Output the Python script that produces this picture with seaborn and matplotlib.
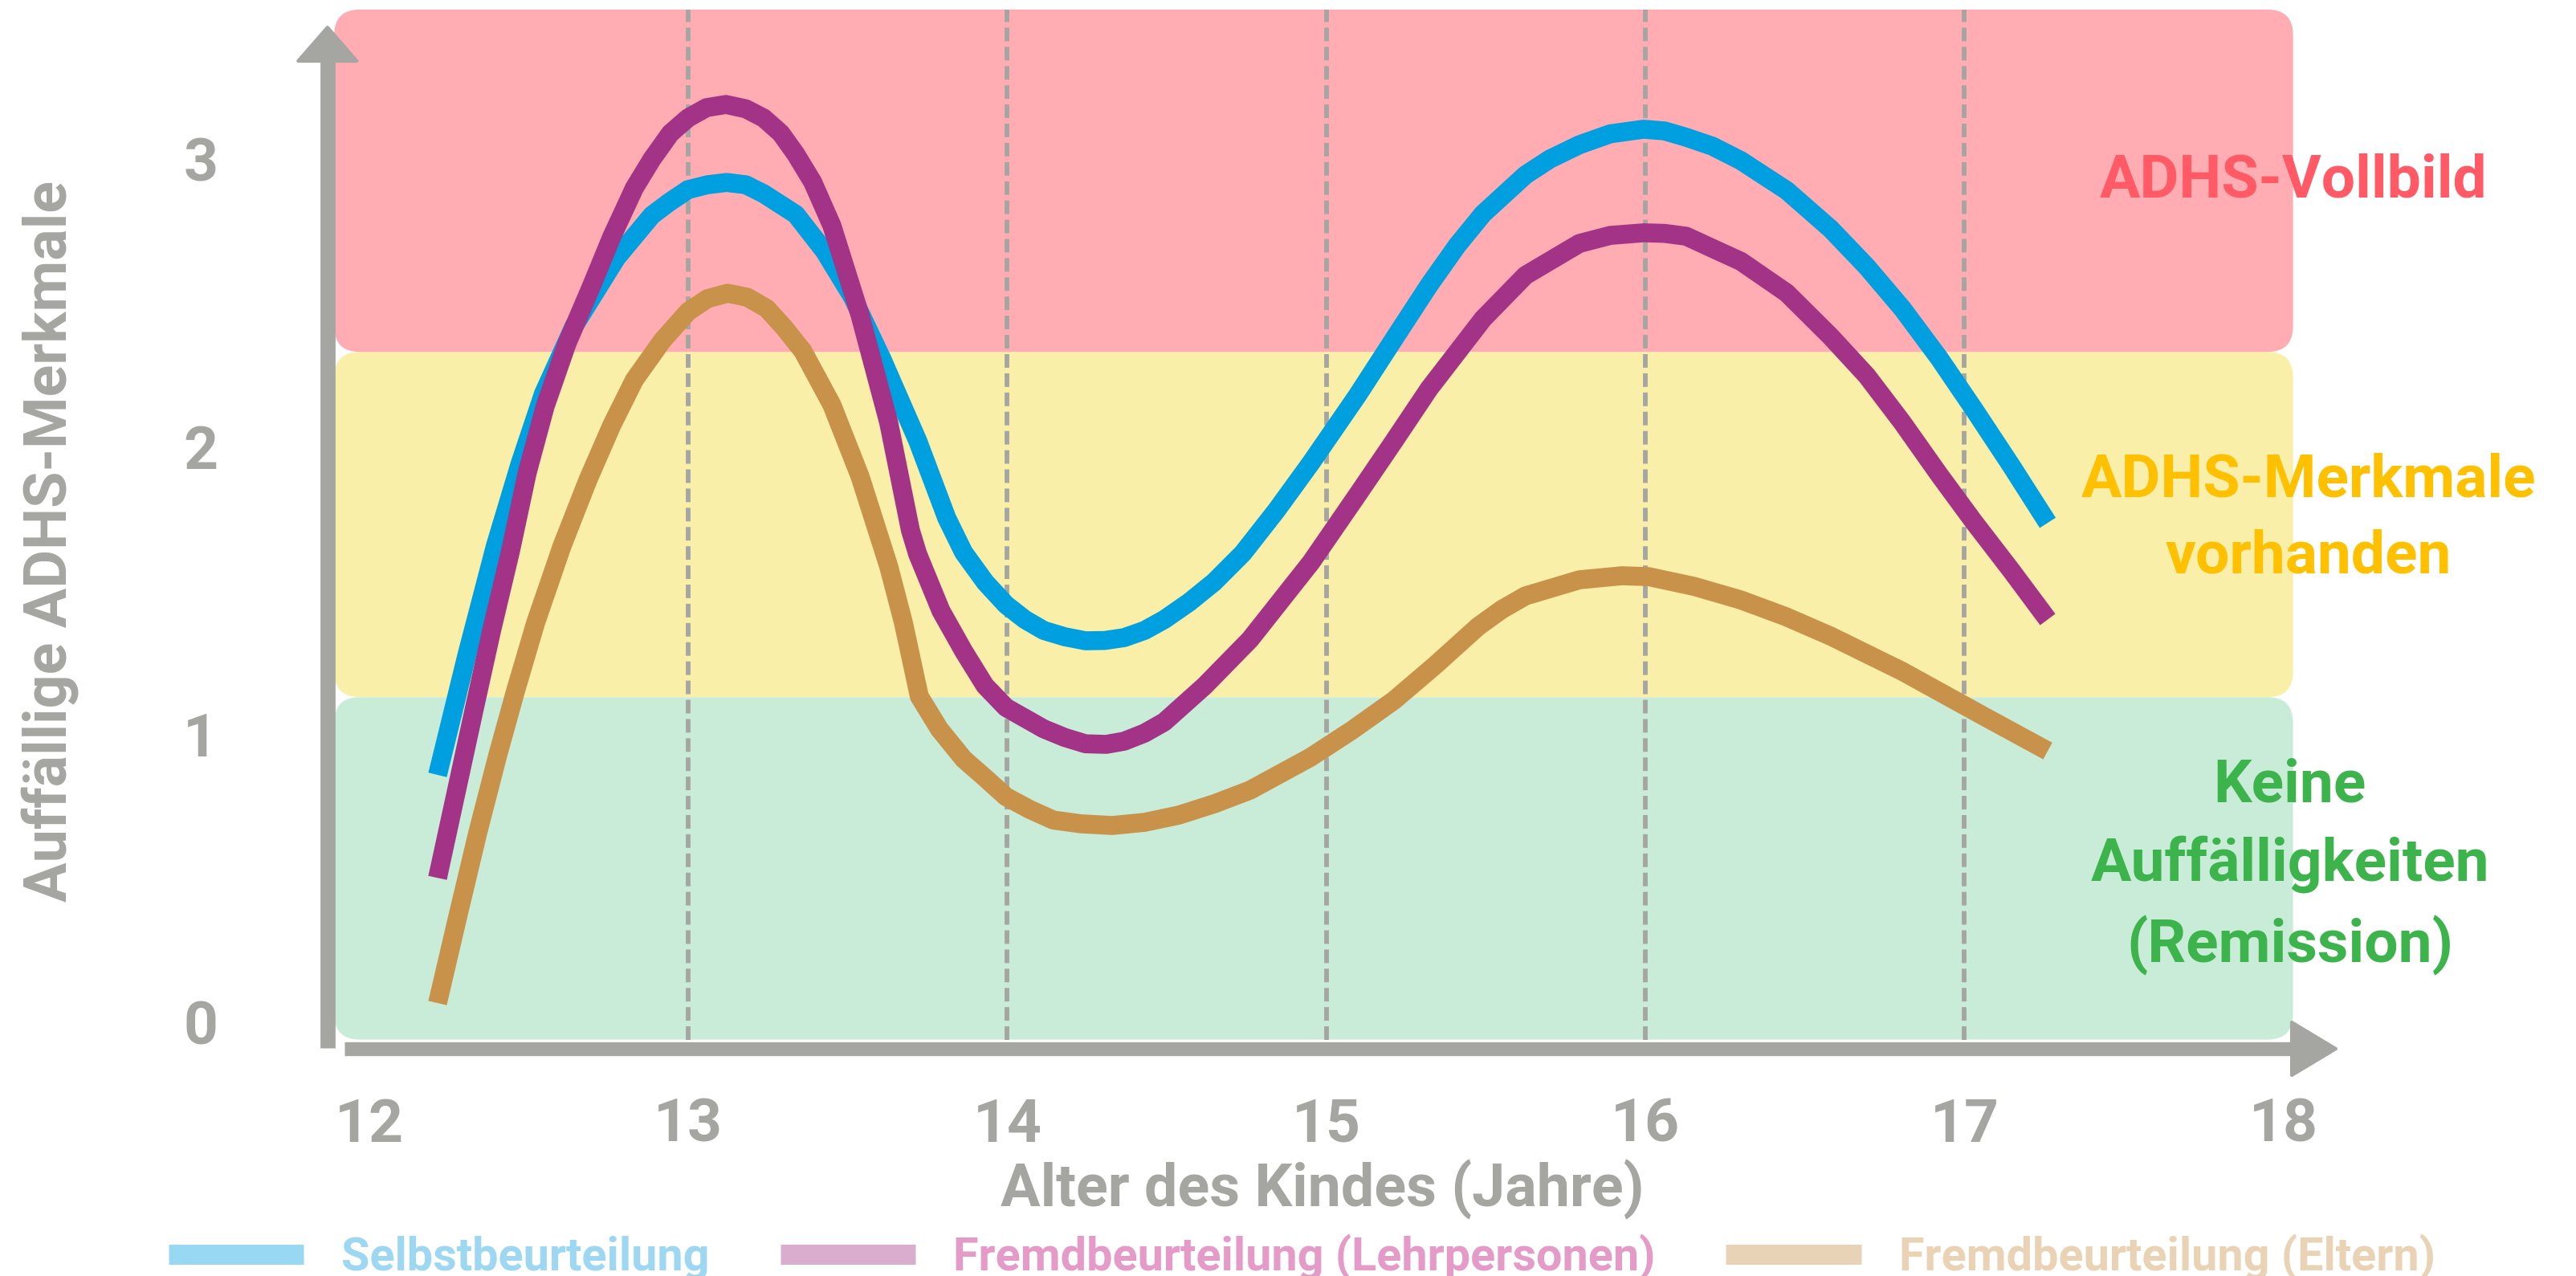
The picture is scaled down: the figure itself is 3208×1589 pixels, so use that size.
import numpy as np
import pandas as pd
import matplotlib
matplotlib.use("Agg")
import matplotlib.pyplot as plt
from matplotlib.patches import FancyBboxPatch
from matplotlib.lines import Line2D
import seaborn as sns

# ---------------- data ----------------
alter_selbst = [12.214, 12.307, 12.395, 12.473, 12.546, 12.642, 12.775, 12.886, 12.940, 12.999,
                13.060, 13.120, 13.180, 13.236, 13.337, 13.427, 13.515, 13.606, 13.719, 13.810,
                13.863, 13.931, 13.996, 14.055, 14.114, 14.180, 14.245, 14.305, 14.366, 14.430,
                14.492, 14.570, 14.648, 14.738, 14.844, 14.952, 15.098, 15.209, 15.322, 15.410,
                15.491, 15.624, 15.700, 15.793, 15.890, 15.994, 16.060, 16.128, 16.210, 16.299,
                16.443, 16.581, 16.694, 16.805, 16.921, 17.029, 17.147, 17.261]
werte_selbst = [0.860, 1.281, 1.655, 1.943, 2.185, 2.420, 2.657, 2.805, 2.850, 2.894,
                2.911, 2.919, 2.911, 2.880, 2.808, 2.680, 2.520, 2.308, 2.021, 1.753,
                1.633, 1.529, 1.451, 1.400, 1.362, 1.340, 1.326, 1.327, 1.337, 1.362,
                1.400, 1.460, 1.530, 1.630, 1.780, 1.945, 2.180, 2.370, 2.562, 2.700,
                2.810, 2.945, 3.000, 3.050, 3.088, 3.104, 3.098, 3.076, 3.045, 2.995,
                2.891, 2.757, 2.626, 2.481, 2.308, 2.132, 1.934, 1.736]

alter_lehrer = [12.214, 12.330, 12.383, 12.443, 12.495, 12.551, 12.620, 12.697, 12.760, 12.831,
                12.886, 12.944, 12.999, 13.057, 13.118, 13.180, 13.236, 13.290, 13.337, 13.390,
                13.450, 13.538, 13.628, 13.696, 13.719, 13.792, 13.863, 13.930, 13.996, 14.114,
                14.180, 14.245, 14.310, 14.366, 14.430, 14.492, 14.618, 14.761, 14.952, 15.098,
                15.209, 15.322, 15.491, 15.624, 15.793, 15.890, 15.994, 16.060, 16.128, 16.210,
                16.299, 16.443, 16.581, 16.694, 16.805, 16.921, 17.029, 17.147, 17.261]
werte_lehrer = [0.502, 1.094, 1.360, 1.640, 1.910, 2.140, 2.360, 2.560, 2.730, 2.900,
                3.000, 3.090, 3.143, 3.179, 3.190, 3.175, 3.143, 3.090, 3.017, 2.920,
                2.769, 2.459, 2.085, 1.711, 1.627, 1.430, 1.290, 1.170, 1.094, 1.020,
                0.990, 0.968, 0.966, 0.977, 1.005, 1.044, 1.169, 1.331, 1.599, 1.834,
                2.015, 2.202, 2.445, 2.596, 2.707, 2.735, 2.744, 2.742, 2.732, 2.690,
                2.645, 2.535, 2.383, 2.247, 2.085, 1.903, 1.740, 1.570, 1.400]

alter_eltern = [12.214, 12.277, 12.340, 12.403, 12.458, 12.521, 12.604, 12.685, 12.760, 12.831,
                12.919, 12.999, 13.060, 13.123, 13.185, 13.246, 13.300, 13.359, 13.450, 13.538,
                13.628, 13.674, 13.724, 13.787, 13.863, 13.930, 13.996, 14.070, 14.144, 14.230,
                14.328, 14.430, 14.537, 14.650, 14.761, 14.950, 15.080, 15.212, 15.340, 15.476,
                15.550, 15.624, 15.793, 15.926, 16.010, 16.153, 16.299, 16.440, 16.581, 16.805,
                17.052, 17.261]
werte_eltern = [0.067, 0.366, 0.659, 0.930, 1.150, 1.387, 1.655, 1.884, 2.075, 2.233,
                2.370, 2.470, 2.515, 2.534, 2.520, 2.481, 2.415, 2.333, 2.146, 1.898,
                1.585, 1.390, 1.133, 1.019, 0.915, 0.850, 0.784, 0.740, 0.703, 0.690,
                0.684, 0.695, 0.720, 0.760, 0.807, 0.921, 1.015, 1.119, 1.240, 1.376,
                1.435, 1.482, 1.538, 1.552, 1.549, 1.515, 1.468, 1.410, 1.342, 1.220,
                1.069, 0.943]

reihen = ["Selbstbeurteilung", "Fremdbeurteilung (Lehrpersonen)", "Fremdbeurteilung (Eltern)"]
linien_farben = ["#009FE0", "#A33387", "#C9924A"]
legenden_text_farben = ["#9DD7F1", "#E59BC8", "#EAD3B5"]

band_grenzen = [-0.06, 1.13, 2.33, 3.52]
band_x = [11.89, 18.03]
band_farben = ["#C8ECD7", "#F9EFA8", "#FFADB3"]
band_texte = ["Keine\nAuffälligkeiten\n(Remission)", "ADHS-Merkmale\nvorhanden", "ADHS-Vollbild"]
band_text_farben = ["#3CB44B", "#FFC000", "#FF5A66"]
band_text_x = [18.02, 18.079, 18.03]
band_text_versatz = [0.005, 0.02, 0.0]

x_ticks = [12, 13, 14, 15, 16, 17, 18]
y_ticks = [0, 1, 2, 3]
jahres_linien = [13, 14, 15, 16, 17]

x_titel = "Alter des Kindes (Jahre)"
y_titel = "Auffällige ADHS-Merkmale"

# ---------------- table ----------------
df = pd.concat([
    pd.DataFrame({"Alter": alter_selbst, "Wert": werte_selbst, "Reihe": reihen[0]}),
    pd.DataFrame({"Alter": alter_lehrer, "Wert": werte_lehrer, "Reihe": reihen[1]}),
    pd.DataFrame({"Alter": alter_eltern, "Wert": werte_eltern, "Reihe": reihen[2]}),
], ignore_index=True)

# ---------------- style ----------------
sns.set_theme(style="white")
plt.rcParams["font.family"] = ["Roboto", "DejaVu Sans"]
GRAU = "#A5A6A1"

fig = plt.figure(figsize=(32.08, 15.89), dpi=100)
ax = fig.add_axes([0.1062, 0.1695, 0.8174, 0.8298])
ax.set_xlim(11.7, 18.3)
ax.set_ylim(-0.13, 3.55)

# bands
for i in range(3):
    y0, y1 = band_grenzen[i], band_grenzen[i + 1]
    ax.add_patch(FancyBboxPatch((band_x[0], y0), band_x[1] - band_x[0], y1 - y0,
                                boxstyle="round,pad=0,rounding_size=0.08",
                                mutation_aspect=1.11, fc=band_farben[i], ec="none", zorder=0))
    ax.text(band_text_x[i], (y0 + y1) / 2 + band_text_versatz[i], band_texte[i],
            color=band_text_farben[i], fontsize=54, fontweight="bold", ha="center",
            va="center", linespacing=1.47, zorder=5, clip_on=False)

# dashed year lines
ax.vlines(jahres_linien, band_grenzen[0], band_grenzen[-1], colors=GRAU, linewidth=4.2,
          linestyles=(0, (2.9, 1.2)), zorder=1)

# curves
sns.lineplot(data=df, x="Alter", y="Wert", hue="Reihe", hue_order=reihen,
             palette=linien_farben, estimator=None, sort=False, linewidth=17,
             legend=False, ax=ax, solid_capstyle="butt", solid_joinstyle="round", zorder=3)

# axis arrows
ax.plot([11.869, 11.869], [-0.089, 3.345], color=GRAU, lw=13.5, solid_capstyle="butt",
        clip_on=False, zorder=4)
ax.fill([11.869 - 0.092, 11.869, 11.869 + 0.092], [3.341, 3.458, 3.341], color=GRAU,
        clip_on=False, zorder=4, joinstyle="round", lw=3, ec=GRAU)
ax.plot([11.922, 18.03], [-0.092, -0.092], color=GRAU, lw=12.5, solid_capstyle="butt",
        clip_on=False, zorder=4)
ax.fill([18.026, 18.164, 18.026], [-0.092 - 0.092, -0.092, -0.092 + 0.092], color=GRAU,
        clip_on=False, zorder=4, joinstyle="round", lw=3, ec=GRAU)

# ticks and labels
for s in ax.spines.values():
    s.set_visible(False)
ax.grid(False)
ax.set_xticks(x_ticks)
ax.set_xticklabels([str(t) for t in x_ticks])
ax.set_yticks(y_ticks)
ax.set_yticklabels([str(t) for t in y_ticks])
ax.tick_params(axis="both", length=0, labelsize=54, labelcolor=GRAU)
ax.tick_params(axis="x", pad=34)
ax.tick_params(axis="y", pad=50)
for lab in ax.get_xticklabels() + ax.get_yticklabels():
    lab.set_fontweight("bold")

ax.set_xlabel(x_titel, fontsize=53, fontweight="bold", color=GRAU, va="center")
ax.xaxis.set_label_coords(0.4981, -0.1224)
ax.set_ylabel(y_titel, fontsize=53, fontweight="bold", color=GRAU, va="center")
ax.yaxis.set_label_coords(-0.1063, 0.4896)

# legend
handles = [Line2D([], [], color=c, alpha=0.4, lw=18, solid_capstyle="butt") for c in linien_farben]
fig.legend(handles, reihen, loc="center", bbox_to_anchor=(0.5054, 0.0148), ncol=3,
           frameon=False, handlelength=2.92, handletextpad=0.82,
           columnspacing=1.52, labelcolor=legenden_text_farben,
           prop={"weight": "bold", "size": 41.5})

fig.savefig("out.png", dpi=100, facecolor="white")
